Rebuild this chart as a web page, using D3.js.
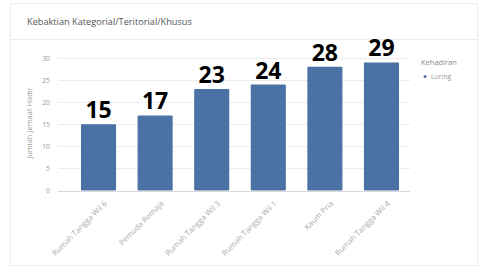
<!DOCTYPE html>
<html>
<head>
<meta charset="utf-8">
<script src="https://cdn.jsdelivr.net/npm/d3@7"></script>
<style>
  body { margin: 0; background: #fff; }
  svg { display: block; }
</style>
</head>
<body>
<script>
// data
var categories = ["Rumah Tangga Wil 6", "Pemuda Remaja", "Rumah Tangga Wil 3",
                  "Rumah Tangga Wil 1", "Kaum Pria", "Rumah Tangga Wil 4"];
var luring = [15, 17, 23, 24, 28, 29];
var yTicks = [0, 5, 10, 15, 20, 25, 30];

var width = 479, height = 270;

var svg = d3.select("body")
  .append("svg")
    .attr("width", width)
    .attr("height", height);

// card
svg.append("rect")
  .attr("x", 10.5).attr("y", 3.5)
  .attr("width", 467).attr("height", 262)
  .attr("fill", "#fff")
  .attr("stroke", "#ececec");

svg.append("line")
  .attr("x1", 11).attr("x2", 477)
  .attr("y1", 39.5).attr("y2", 39.5)
  .attr("stroke", "#ececec");

svg.append("text")
  .attr("x", 27).attr("y", 25)
  .attr("font-family", "Open Sans, sans-serif")
  .attr("font-size", 9.2)
  .attr("fill", "#555")
  .text("Kebaktian Kategorial/Teritorial/Khusus");

// scales
var x = d3.scaleBand()
  .domain(categories)
  .range([81, 399])
  .paddingInner(0.38)
  .paddingOuter(0);

var y = d3.scaleLinear()
  .domain([0, 30])
  .range([190.5, 58]);

// grid
svg.append("g")
  .selectAll("line")
  .data(yTicks)
  .enter()
  .append("line")
    .attr("x1", 58).attr("x2", 410)
    .attr("y1", d => Math.round(y(d)) + 0.5)
    .attr("y2", d => Math.round(y(d)) + 0.5)
    .attr("stroke", d => d === 0 ? "#d9d9d9" : "#ececec");

// y axis labels
svg.append("g")
  .attr("transform", "translate(50,0)")
  .call(d3.axisLeft(y).tickValues(yTicks).tickSize(0).tickPadding(0))
  .call(g => g.select(".domain").remove())
  .selectAll("text")
    .attr("font-family", "Open Sans, sans-serif")
    .attr("font-size", 6.8)
    .attr("fill", "#999");

svg.append("text")
  .attr("transform", "translate(32,123)rotate(-90)")
  .attr("text-anchor", "middle")
  .attr("font-family", "Open Sans, sans-serif")
  .attr("font-size", 7.5)
  .attr("fill", "#999")
  .text("Jumlah Jemaat Hadir");

// bars
svg.selectAll("mybar")
  .data(luring)
  .enter()
  .append("rect")
    .attr("x", (d, i) => x(categories[i]))
    .attr("y", d => y(d))
    .attr("width", x.bandwidth())
    .attr("height", d => y(0) - y(d))
    .attr("rx", 1)
    .attr("fill", "#4a72a5");

// value labels
svg.selectAll("vlabel")
  .data(luring)
  .enter()
  .append("text")
    .attr("x", (d, i) => x(categories[i]) + x.bandwidth() / 2)
    .attr("y", d => y(d) - 6)
    .attr("text-anchor", "middle")
    .attr("font-family", "Open Sans, sans-serif")
    .attr("font-weight", 700)
    .attr("font-size", 23)
    .attr("fill", "#000")
    .text(d => d);

// x labels
svg.append("g")
  .attr("transform", "translate(0,196)")
  .call(d3.axisBottom(x).tickSize(0).tickPadding(0))
  .call(g => g.select(".domain").remove())
  .selectAll("text")
    .attr("font-family", "Open Sans, sans-serif")
    .attr("font-size", 7.8)
    .attr("fill", "#aaa")
    .attr("y", 0)
    .attr("dy", 0)
    .attr("transform", "translate(9,8)rotate(-45)")
    .style("text-anchor", "end");

// legend
svg.append("text")
  .attr("x", 421).attr("y", 65)
  .attr("font-family", "Open Sans, sans-serif")
  .attr("font-size", 7.5)
  .attr("fill", "#888")
  .text("Kehadiran");

svg.append("circle")
  .attr("cx", 425).attr("cy", 76.5)
  .attr("r", 1.5)
  .attr("fill", "#4a72a5");

svg.append("text")
  .attr("x", 431).attr("y", 79)
  .attr("font-family", "Open Sans, sans-serif")
  .attr("font-size", 6.8)
  .attr("fill", "#999")
  .text("Luring");
</script>
</body>
</html>
